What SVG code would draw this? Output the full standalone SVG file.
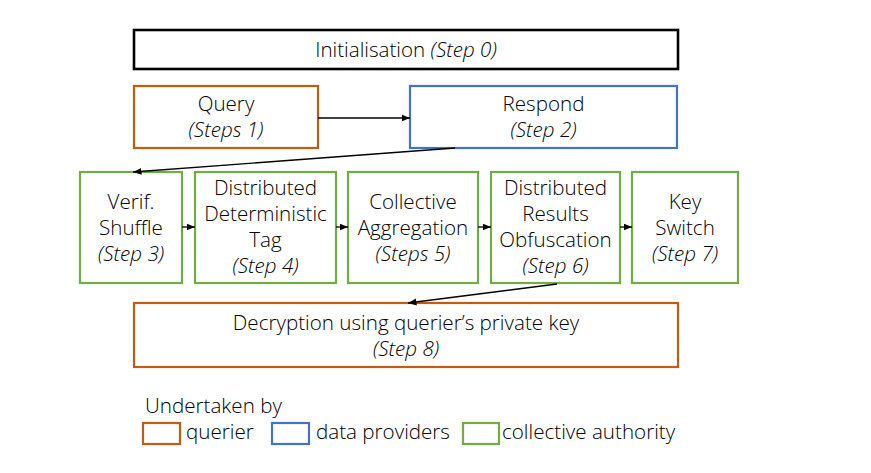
<svg xmlns="http://www.w3.org/2000/svg" width="871" height="473" viewBox="0 0 871 473">
<defs>
<style>
text{font-family:"Open Sans","Liberation Sans",sans-serif;font-weight:300;font-size:20.6px;fill:#000;text-anchor:middle}
.i{font-style:italic}
.l{text-anchor:start}
.box{fill:#fff;stroke-width:2.2}
.k{stroke:#000;stroke-width:2.6}
.o{stroke:#C55A11}
.b{stroke:#4472C4}
.g{stroke:#70AD47}
.c{stroke:#000;stroke-width:1.3;fill:none;marker-end:url(#ah)}
</style>
<marker id="ah" markerUnits="userSpaceOnUse" markerWidth="9" markerHeight="8" refX="8.5" refY="4" orient="auto">
<path d="M0,0.5 L8.5,4 L0,7.5 Z" fill="#000"/>
</marker>
</defs>
<rect width="871" height="473" fill="#fff"/>
<g id="init">
<rect class="box k" x="134" y="30" width="544" height="39"/>
<text x="406" y="57">Initialisation <tspan class="i">(Step 0)</tspan></text>
</g>
<g id="query">
<rect class="box o" x="134" y="86" width="184" height="62"/>
<text x="226" y="111">Query</text>
<text class="i" x="226" y="137">(Steps 1)</text>
</g>
<g id="respond">
<rect class="box b" x="410" y="86" width="267" height="62"/>
<text x="543.5" y="111">Respond</text>
<text class="i" x="543.5" y="137">(Step 2)</text>
</g>
<g id="verif">
<rect class="box g" x="80" y="172" width="102" height="111"/>
<text x="131" y="209">Verif.</text>
<text x="131" y="235">Shuffle</text>
<text class="i" x="131" y="261">(Step 3)</text>
</g>
<g id="ddt">
<rect class="box g" x="195" y="172" width="141" height="111"/>
<text x="265.5" y="195">Distributed</text>
<text x="265.5" y="221">Deterministic</text>
<text x="265.5" y="247">Tag</text>
<text class="i" x="265.5" y="273">(Step 4)</text>
</g>
<g id="agg">
<rect class="box g" x="348" y="172" width="130" height="111"/>
<text x="413" y="209">Collective</text>
<text x="413" y="235">Aggregation</text>
<text class="i" x="413" y="261">(Steps 5)</text>
</g>
<g id="dro">
<rect class="box g" x="491" y="172" width="129" height="111"/>
<text x="555.5" y="195">Distributed</text>
<text x="555.5" y="221">Results</text>
<text x="555.5" y="247">Obfuscation</text>
<text class="i" x="555.5" y="273">(Step 6)</text>
</g>
<g id="keyswitch">
<rect class="box g" x="632" y="172" width="106" height="111"/>
<text x="685" y="209">Key</text>
<text x="685" y="235">Switch</text>
<text class="i" x="685" y="261">(Step 7)</text>
</g>
<g id="decrypt">
<rect class="box o" x="134" y="303" width="544" height="64"/>
<text x="406" y="330">Decryption using querier’s private key</text>
<text class="i" x="406" y="356">(Step 8)</text>
</g>
<g id="connectors">
<line class="c" x1="318" y1="118" x2="410" y2="118"/>
<line class="c" x1="455" y1="148" x2="133" y2="172"/>
<line class="c" x1="182" y1="227" x2="195" y2="227"/>
<line class="c" x1="336" y1="227" x2="348" y2="227"/>
<line class="c" x1="478" y1="227" x2="491" y2="227"/>
<line class="c" x1="620" y1="227" x2="632" y2="227"/>
<line class="c" x1="557" y1="284" x2="408" y2="303"/>
</g>
<g id="legend">
<text class="l" x="145" y="413">Undertaken by</text>
<rect class="box o" x="143" y="423" width="37" height="21"/>
<text class="l" x="186" y="439">querier</text>
<rect class="box b" x="272" y="423" width="37" height="21"/>
<text class="l" x="316" y="439">data providers</text>
<rect class="box g" x="463" y="423" width="36" height="21"/>
<text class="l" x="502" y="439">collective authority</text>
</g>
</svg>
